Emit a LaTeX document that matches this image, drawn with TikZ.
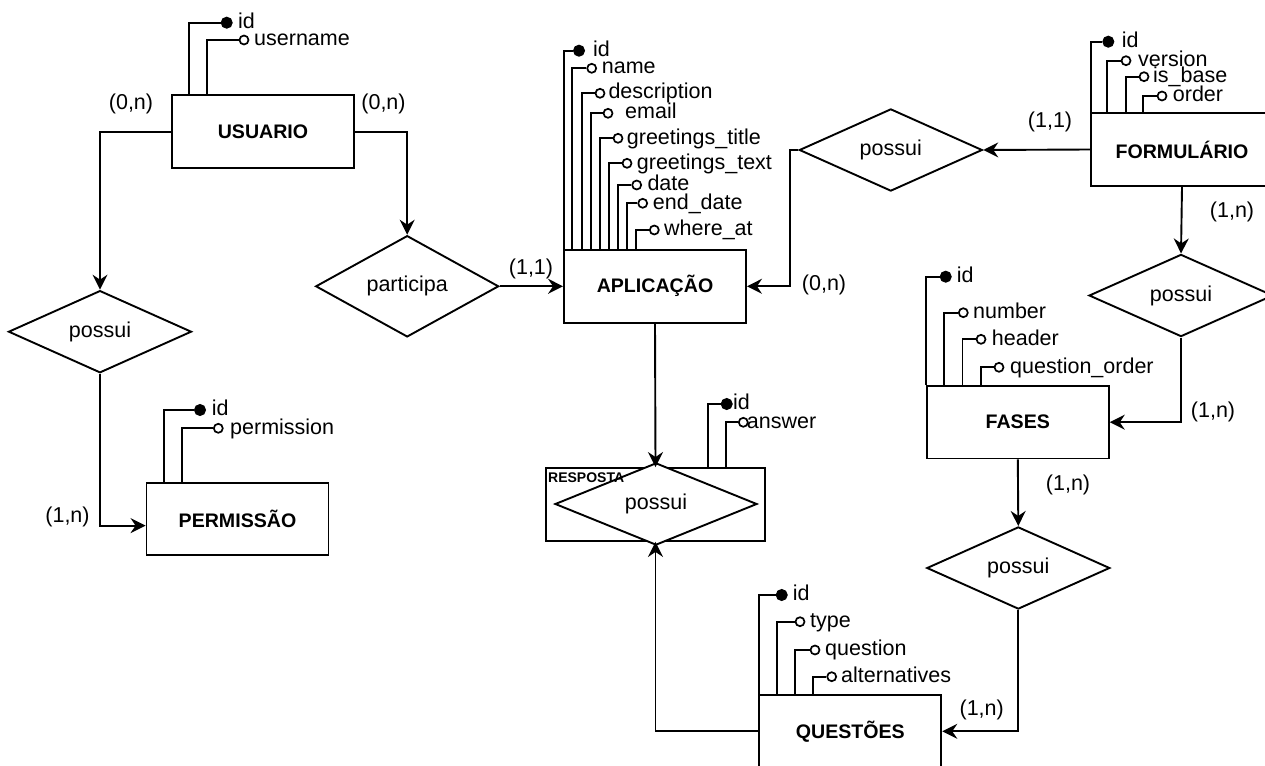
\documentclass[tikz,border=0pt]{standalone}
\usepackage{fontspec}
\setmainfont{Liberation Sans}
\usetikzlibrary{arrows.meta,shapes.geometric}
\tikzset{
  link/.style={line width=1.9pt, draw=black},
  arr/.style={link, -{Stealth[length=15pt,width=15pt,inset=5pt]}},
  entity/.style={draw, line width=1.9pt, fill=white, minimum width=182pt, minimum height=72.5pt, inner sep=0pt, font=\bfseries\fontsize{19.6}{22}\selectfont},
  rel/.style={draw, shape=diamond, line width=1.9pt, fill=white, minimum width=183pt, minimum height=73pt, inner sep=0pt, font=\fontsize{21.5}{24}\selectfont},
  keyattr/.style={circle, fill=black, draw=black, line width=1pt, minimum size=11pt, inner sep=0pt},
  plainattr/.style={circle, draw=black, fill=white, line width=1.7pt, minimum size=9pt, inner sep=0pt},
  attrtext/.style={anchor=west, inner sep=0pt, text height=16pt, text depth=4.6pt, font=\fontsize{21.5}{24}\selectfont},
  card/.style={inner sep=0pt, text height=16pt, text depth=4.6pt, font=\fontsize{21.5}{24}\selectfont},
}
% #1 box node, #2 x offset from box left, #3 name, #4 style, #5 circle x, #6 y, #7 text x, #8 text
\newcommand\erattr[8]{%
  \node[#4] (#3) at (#5,#6) {};
  \node[attrtext] (#3-t) at (#7,#6) {#8};
  \draw[link] ([xshift=#2pt]#1.north west) |- (#3);
}
\begin{document}
\begin{tikzpicture}[x=1pt,y=-1pt]
\useasboundingbox (0,0) rectangle (1265,765);
\clip (0,0) rectangle (1265,765);

% entities
\node[entity] (usr) at (263,131.7) {USUARIO};
\node[entity] (app) at (655,286.3) {APLICAÇÃO};
\node[entity] (form) at (1182,149.5) {FORMULÁRIO};
\node[entity] (fas) at (1017.8,422.2) {FASES};
\node[entity] (q) at (850.3,731.3) {QUESTÕES};
\node[entity] (perm) at (237.5,518.9) {PERMISSÃO};

% associative entity RESPOSTA
\node[draw, line width=1.9pt, minimum width=219pt, minimum height=73pt, inner sep=0pt] (resp) at (655.5,504.5) {};
\node[rel, minimum width=202pt, minimum height=55pt] (rd) at (656,504) {possui};
\node[anchor=west, inner sep=0pt, font=\bfseries\fontsize{14}{16}\selectfont] (resplbl) at (548,477.5) {RESPOSTA};

% relationships
\node[rel] (dl) at (100,331.7) {possui};
\node[rel] (dp) at (407.2,286.3) {participa};
\node[rel] (dt) at (890.8,150) {possui};
\node[rel, minimum width=184pt] (dr) at (1181,295.5) {possui};
\node[rel] (db) at (1018.3,568) {possui};

% attributes USUARIO
\erattr{usr}{18}{u1}{keyattr}{226.7}{22.7}{238}{id}
\erattr{usr}{35.7}{u2}{plainattr}{244}{40}{254}{username}

% attributes APLICACAO
\erattr{app}{1}{a1}{keyattr}{579}{50.7}{593}{id}
\erattr{app}{9.3}{a2}{plainattr}{591.7}{68.3}{601.7}{name}
\erattr{app}{18.7}{a3}{plainattr}{600}{93.3}{608.3}{description}
\erattr{app}{27.7}{a4}{plainattr}{608}{113.3}{625}{email}
\erattr{app}{37}{a5}{plainattr}{618}{138.3}{626.7}{greetings\_title}
\erattr{app}{46}{a6}{plainattr}{627}{163.3}{636.7}{greetings\_text}
\erattr{app}{55.3}{a7}{plainattr}{636.7}{185}{647.3}{date}
\erattr{app}{64.3}{a8}{plainattr}{642.7}{203.3}{652.7}{end\_date}
\erattr{app}{73.3}{a9}{plainattr}{654.3}{230}{664}{where\_at}

% attributes FORMULARIO
\erattr{form}{0.5}{f1}{keyattr}{1108.3}{41.7}{1121.7}{id}
\erattr{form}{17.3}{f2}{plainattr}{1126}{60.7}{1138}{version}
\erattr{form}{35.7}{f3}{plainattr}{1144}{76.7}{1153}{is\_base}
\erattr{form}{53.3}{f4}{plainattr}{1162}{96}{1172.7}{order}

% attributes FASES
\erattr{fas}{0.5}{s1}{keyattr}{945.7}{276.7}{956.7}{id}
\erattr{fas}{18.3}{s2}{plainattr}{963.3}{312.7}{973}{number}
\erattr{fas}{36.6}{s3}{plainattr}{981}{339.3}{991.7}{header}
\erattr{fas}{55}{s4}{plainattr}{999}{367.3}{1010}{question\_order}

% attributes QUESTOES
\erattr{q}{0.7}{q1}{keyattr}{781.7}{595}{792.7}{id}
\erattr{q}{18.4}{q2}{plainattr}{800}{621.7}{810}{type}
\erattr{q}{36.7}{q3}{plainattr}{815}{650}{825}{question}
\erattr{q}{54.7}{q4}{plainattr}{831.7}{676.7}{841}{alternatives}

% attributes PERMISSAO
\erattr{perm}{18.3}{p1}{keyattr}{200}{410}{211.7}{id}
\erattr{perm}{36}{p2}{plainattr}{218.3}{428.3}{230}{permission}

% attributes RESPOSTA
\erattr{resp}{163.3}{r1}{keyattr}{726.7}{404}{733}{id}
\erattr{resp}{181.3}{r2}{plainattr}{743.3}{422.3}{746.7}{answer}

% connectors
\draw[arr] (usr.west) -| (dl.north);
\draw[arr] (usr.east) -| (dp.north);
\draw[arr] (dp.east) -- (app.west);
\draw[arr] (form.west) -- (dt.east);
\draw[arr] (dt.west) -- ++(-8.3,0) |- (app.east);
\draw[arr] (form.south) -- (dr.north);
\draw[arr] (dr.south) |- (fas.east);
\draw[arr] (fas.south) -- (db.north);
\draw[arr] (db.south) |- (q.east);
\draw[arr] (q.west) -| (resp.south);
\draw[arr] (app.south) -- (resp.north);
\draw[arr] (dl.south) |- ([yshift=-6.7pt]perm.west);

% cardinalities
\node[card] (c1) at (131,104) {(0,n)};
\node[card] (c2) at (383.5,104) {(0,n)};
\node[card] (c3) at (531,268.3) {(1,1)};
\node[card] (c4) at (824,285) {(0,n)};
\node[card] (c5) at (1050,121.7) {(1,1)};
\node[card] (c6) at (1232,211.7) {(1,n)};
\node[card] (c7) at (1213,411.7) {(1,n)};
\node[card] (c8) at (1068,485) {(1,n)};
\node[card] (c9) at (981.7,710) {(1,n)};
\node[card] (c10) at (67.5,517) {(1,n)};
\end{tikzpicture}
\end{document}
